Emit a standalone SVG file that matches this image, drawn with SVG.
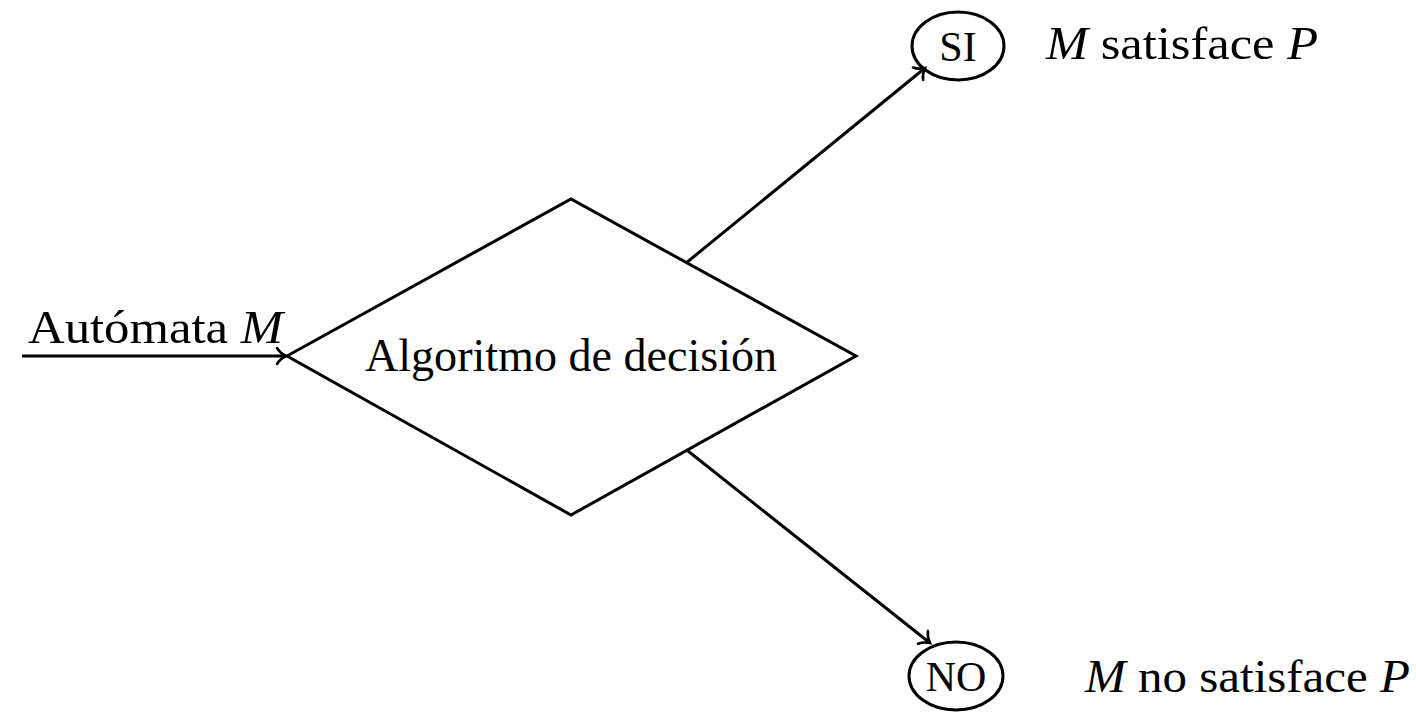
<svg xmlns="http://www.w3.org/2000/svg" width="1416" height="717" viewBox="0 0 1416 717">
<style>
.t{font-family:"Liberation Serif","Times New Roman",serif;font-size:46px;fill:#000}
.n{font-size:42px}
.i{font-style:italic}
.s{fill:none;stroke:#000;stroke-width:3}
</style>
<defs>
<marker id="ar" viewBox="-12 -10 16 20" markerWidth="16" markerHeight="20" refX="0" refY="0" orient="auto" markerUnits="userSpaceOnUse">
<path d="M-9,-8 C-6,-3 -2,-1 0,0 C-2,1 -6,3 -9,8" fill="none" stroke="#000" stroke-width="2.6" stroke-linecap="round"/>
</marker>
</defs>
<rect width="1416" height="717" fill="#fff"/>
<g id="decision">
<polygon class="s" points="287,356 571,199 856,356 571,515"/>
<text class="t" x="571" y="371" text-anchor="middle" textLength="412" lengthAdjust="spacingAndGlyphs">Algoritmo de decisión</text>
</g>
<g id="si">
<ellipse class="s" cx="958" cy="46" rx="46" ry="34"/>
<text class="t n" x="958" y="61" text-anchor="middle">SI</text>
</g>
<g id="no">
<ellipse class="s" cx="956" cy="676" rx="47" ry="34"/>
<text class="t n" x="956" y="691" text-anchor="middle">NO</text>
</g>
<g id="labels">
<text class="t" x="28" y="343" textLength="255" lengthAdjust="spacingAndGlyphs">Autómata <tspan class="i">M</tspan></text>
<text class="t" x="1046" y="59" textLength="272" lengthAdjust="spacingAndGlyphs"><tspan class="i">M</tspan> satisface <tspan class="i">P</tspan></text>
<text class="t" x="1085" y="692" textLength="325" lengthAdjust="spacingAndGlyphs"><tspan class="i">M</tspan> no satisface <tspan class="i">P</tspan></text>
</g>
<g id="connectors">
<line class="s" x1="22" y1="356" x2="286" y2="356" marker-end="url(#ar)"/>
<line class="s" x1="686" y1="263" x2="925" y2="68" marker-end="url(#ar)"/>
<line class="s" x1="688" y1="451" x2="930" y2="643" marker-end="url(#ar)"/>
</g>
</svg>
